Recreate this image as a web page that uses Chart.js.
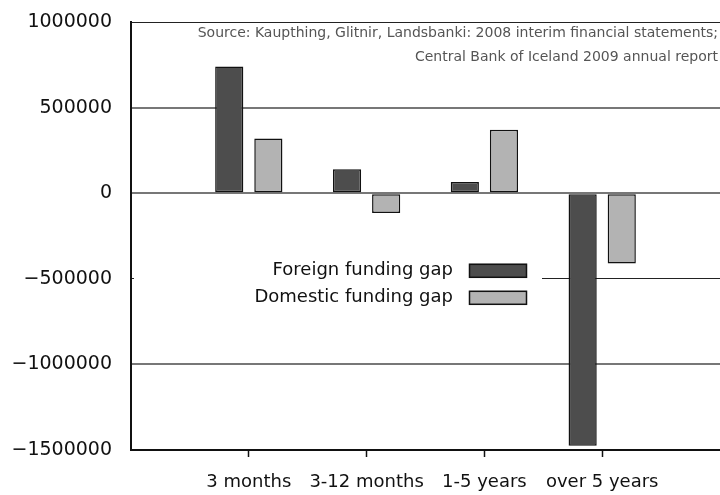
<!DOCTYPE html>
<html>
<head>
<meta charset="utf-8">
<script src="https://cdn.jsdelivr.net/npm/chart.js@4.4.1/dist/chart.umd.min.js"></script>
<style>
  html, body { margin: 0; padding: 0; background: #ffffff; }
  #wrap { width: 720px; height: 495px; }
</style>
</head>
<body>
<div id="wrap"><canvas id="graficaGap"></canvas></div>
<script>
// Datos del gráfico
var categories = ['3 months', '3-12 months', '1-5 years', 'over 5 years'];
var foreignGap = [740000, 140000, 65000, -1475000];
var domesticGap = [320000, -115000, 370000, -410000];
var seriesNames = ['Foreign funding gap', 'Domestic funding gap'];
var yTicks = [1000000, 500000, 0, -500000, -1000000, -1500000];
var sourceLines = [
    'Source: Kaupthing, Glitnir, Landsbanki: 2008 interim financial statements;',
    'Central Bank of Iceland 2009 annual report'
];

var darkFill = '#4d4d4d';
var lightFill = '#b3b3b3';
var fontName = '"DejaVu Sans", sans-serif';

// Etiquetas con un hueco vacío al principio y al final
var labels = [''].concat(categories).concat(['']);
function pad(arr) {
    return [null].concat(arr).concat([null]);
}

// Leyenda dentro del área y texto de la fuente
var overlayPlugin = {
    id: 'overlay',
    beforeDatasetsDraw: function(chart) {
        var ctx = chart.ctx;
        var area = chart.chartArea;
        var y = chart.scales.y;
        var mid = y.getPixelForValue(-500000);
        ctx.save();
        // tapar la línea de la cuadrícula detrás de la leyenda
        ctx.fillStyle = '#ffffff';
        ctx.fillRect(area.left + 3, mid - 20, 542 - area.left - 3, 40);

        ctx.font = '18px ' + fontName;
        ctx.textAlign = 'right';
        ctx.textBaseline = 'middle';
        var rows = [mid - 8, mid + 19];
        var fills = [darkFill, lightFill];
        for (var i = 0; i < seriesNames.length; i++) {
            ctx.fillStyle = '#111111';
            ctx.fillText(seriesNames[i], 453, rows[i]);
            ctx.fillStyle = fills[i];
            ctx.fillRect(469, rows[i] - 7, 58, 14);
            ctx.strokeStyle = '#111111';
            ctx.lineWidth = 1.5;
            ctx.strokeRect(469.5, rows[i] - 6.5, 57, 13);
        }

        // fuente
        ctx.font = '14px ' + fontName;
        ctx.fillStyle = '#555555';
        ctx.fillText(sourceLines[0], area.right - 2, area.top + 11);
        ctx.fillText(sourceLines[1], area.right - 2, area.top + 35);
        ctx.restore();
    }
};

var ctx = document.getElementById('graficaGap').getContext('2d');
var chart = new Chart(ctx, {
    type: 'bar',
    data: {
        labels: labels,
        datasets: [{
            label: seriesNames[0],
            data: pad(foreignGap),
            backgroundColor: darkFill,
            borderColor: '#111111',
            borderWidth: 1.5,
            borderSkipped: false
        }, {
            label: seriesNames[1],
            data: pad(domesticGap),
            backgroundColor: lightFill,
            borderColor: '#111111',
            borderWidth: 1.5,
            borderSkipped: false
        }]
    },
    options: {
        responsive: true,
        maintainAspectRatio: false,
        animation: false,
        layout: { padding: { top: 22, right: 0, left: 0, bottom: 0 } },
        categoryPercentage: 0.664,
        barPercentage: 0.72,
        plugins: {
            legend: { display: false },
            tooltip: { enabled: false }
        },
        scales: {
            x: {
                offset: false,
                grid: {
                    offset: false,
                    drawOnChartArea: false,
                    drawTicks: true,
                    tickLength: 7,
                    tickWidth: 1.5,
                    tickColor: function(c) {
                        var i = c.index;
                        return (i === 0 || i === labels.length - 1) ? 'rgba(0,0,0,0)' : '#111111';
                    }
                },
                border: { display: true, color: '#111111', width: 2 },
                ticks: {
                    autoSkip: false,
                    maxRotation: 0,
                    padding: 0,
                    color: '#111111',
                    font: { family: fontName, size: 18, lineHeight: 2.8 }
                },
                afterFit: function(scale) { scale.height = 45; }
            },
            y: {
                min: -1500000,
                max: 1000000,
                afterBuildTicks: function(scale) {
                    scale.ticks = yTicks.map(function(v) { return { value: v }; });
                },
                grid: {
                    drawTicks: true,
                    tickLength: 19,
                    tickColor: 'rgba(0,0,0,0)',
                    color: function(c) {
                        var v = c.tick ? c.tick.value : 0;
                        if (v === 1000000) return '#222222';
                        if (v === -500000) return '#222222';
                        return '#777777';
                    },
                    lineWidth: function(c) {
                        var v = c.tick ? c.tick.value : 0;
                        if (v === 1000000 || v === -500000) return 1;
                        return 2;
                    }
                },
                border: { display: true, color: '#111111', width: 2 },
                ticks: {
                    padding: 0,
                    color: '#111111',
                    font: { family: fontName, size: 19 },
                    callback: function(v) {
                        return v < 0 ? '\u2212' + Math.abs(v) : String(v);
                    }
                },
                afterFit: function(scale) { scale.width = 131; }
            }
        }
    },
    plugins: [overlayPlugin]
});
</script>
</body>
</html>
